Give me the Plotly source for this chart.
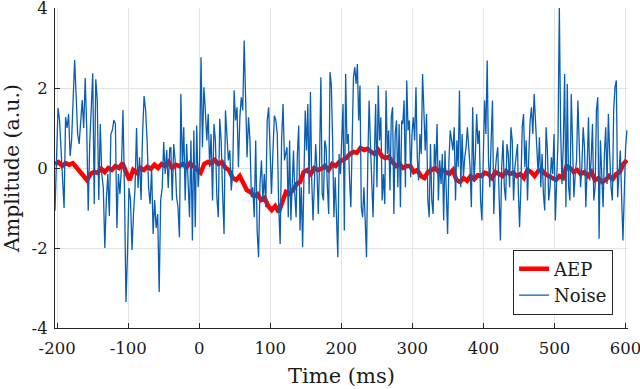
import numpy as np
import plotly.graph_objects as go

# ---------------- data ----------------
x_tick_vals = [-200, -100, 0, 100, 200, 300, 400, 500, 600]
x_tick_text = ["-200", "-100", "0", "100", "200", "300", "400", "500", "600"]
y_tick_vals = [-4, -2, 0, 2, 4]
y_tick_text = ["-4", "-2", "0", "2", "4"]

# Noise recording, read in five consecutive time windows (ms)
noise_window_ms = [(-203, -41.5), (-40, 122), (123.5, 285), (286.5, 448), (449, 602)]

noise_w1 = [-1.07, 0.4, 1.5, 1.2, 0.45, -0.5, -1.0, 1.27, 1.0, 1.35, 0.3, 0.7, 1.6, 2.7, 1.8,
            0.85, 0.6, 1.2, 1.7, 1.0, 2.25, 1.0, -1.07, 0.6, 1.5, 2.37, -0.9, 2.22, 1.7, -0.8,
            1.1, -0.15, -0.5, -2.0, -0.8, -0.15, -1.2, 0.85, 0.95, 1.2, 1.1, -1.5, -0.15, -0.65,
            0.0, 1.45, -0.5, -3.35, -2.15, -0.5, -0.8, -2.05, -1.15, -0.5, 1.0, -0.5, 0.27, -0.8,
            0.85, 1.8, 1.45, 0.7, -0.5, -0.9, 0.0, -1.65, -0.8, -1.5, -1.15, -3.1, -0.8, -0.5,
            0.65, -0.15, 0.45, -0.5, 0.5]
noise_w2 = [0.52, -0.81, 0.6, 0.19, -0.73, -0.98, -1.73, 1.85, 0.02, 1.02, -0.81, 0.6, -0.48,
            -1.23, 0.69, -1.81, 0.94, -1.48, 1.06, -0.48, 0.19, 2.77, 0.52, 2.02, 1.44, 0.69, 1.35,
            0.02, 0.85, -0.81, 1.1, 0.69, -0.73, -1.23, 1.23, 0.69, -0.65, -1.65, 1.44, 0.69, 0.19,
            0.44, -0.56, -0.15, 1.94, 1.19, 1.52, 0.02, 1.27, 1.77, 1.44, 3.19, 1.77, 0.27, 1.27,
            0.69, -0.73, -0.48, -1.23, 0.69, -1.56, -2.23, -0.4, 0.19, -0.81, -0.15, -0.98, 1.19,
            1.52, 0.27, -0.65, 0.44, 1.31, 1.19, 0.85, -0.98, -1.9, 0.69, 1.6, 0.19, 0.44]
noise_w3 = [0.52, -1.23, 0.69, -1.31, -0.48, 0.44, -0.65, -1.23, 0.35, 1.06, -1.56, -0.48, -1.98,
            0.35, 1.44, 0.44, 1.6, -0.65, 1.9, -0.31, -1.31, -0.4, 0.6, -0.06, -1.15, 0.19, 2.27,
            -0.65, -0.81, 0.69, 0.52, -0.48, -1.15, 2.4, 2.1, 0.69, -1.23, -0.23, -1.4, -2.23, 0.35,
            -0.15, 0.69, 1.6, -1.56, 2.35, 0.6, 0.85, -0.31, -0.98, 0.69, 2.27, 2.52, 2.1, 2.6,
            1.19, 2.06, -0.98, -1.23, -0.48, -1.31, -2.23, 0.19, 1.69, 0.6, -0.65, -1.23, 0.27,
            1.6, -0.48, 2.06, 0.69, 1.27, -0.81, -0.15, -0.9, 1.94, 0.35, 0.94, -0.56, 1.27, 1.52,
            -1.15, 0.85, 1.19, -0.48, 1.1, -0.98, 1.19]
noise_w4 = [1.1, 1.69, -0.48, 2.19, 0.94, 1.19, -0.23, 0.85, 1.27, 0.69, 2.02, 0.27, -0.31, 0.85,
            0.35, 2.35, 1.44, 0.44, 1.35, -0.81, -1.23, 0.6, -0.81, -1.15, 0.6, 0.02, 1.1, -0.81,
            0.19, -0.4, 0.35, -1.31, 0.44, -0.48, -1.65, 0.19, 0.94, 0.69, 0.44, 1.02, -0.81, 0.69,
            0.02, 1.94, -0.48, 0.85, -0.23, 0.27, 0.52, 1.02, 0.6, 0.02, -0.98, 1.52, -0.31, 0.27,
            1.35, 0.6, 0.94, -0.81, -1.31, 0.27, 1.69, 0.85, 2.69, 0.19, -0.48, 0.69, 1.69, -1.15,
            -0.15, 0.27, 0.52, -0.65, -1.81, 0.02, 0.69, -0.48, -0.81, 0.6, 0.35, -0.48, 1.02,
            0.69, -0.81, 0.02, 0.35, 0.6]
noise_w5 = [-0.48, -1.48, -0.48, 1.02, 1.35, 0.02, 0.69, -0.81, 0.35, 1.19, 1.52, 0.85, 1.85,
            1.27, 0.44, -0.15, 0.77, -0.48, 0.35, -0.65, -1.06, 1.02, 0.44, -0.81, -0.48, 0.27,
            -0.15, 0.85, -1.31, -0.15, 0.69, 4.02, 0.94, -0.4, 0.6, 2.35, -0.98, 2.1, -0.48, -0.81,
            1.85, 0.6, -0.73, -0.15, 0.19, 1.69, 0.52, -0.48, 0.02, 1.02, 0.52, -0.98, 0.02, 1.27,
            -0.31, 0.19, 1.1, -0.81, -0.48, 1.44, 1.77, -1.77, 0.69, -0.15, -0.98, 0.35, 1.02,
            -0.4, 1.35, 0.35, -0.48, -0.81, 1.44, 2.02, 2.19, -0.73, 0.02, 0.44, -0.73, -1.81,
            -0.65, 0.52, 0.94]
noise_windows = [noise_w1, noise_w2, noise_w3, noise_w4, noise_w5]

# AEP (averaged evoked potential), one value every 5 ms from -203 ms
aep_start_ms, aep_step_ms = -203, 5
aep = [0.1, 0.15, 0.05, 0.12, 0.08, 0.12, 0.02, -0.08, -0.2, -0.3,
       -0.15, -0.1, -0.12, -0.02, -0.1, 0.0, -0.05, 0.05, 0.0, 0.12,
       -0.1, -0.3, -0.05, -0.12, 0.0, -0.05, 0.03, -0.02, 0.08, 0.0,
       0.1, 0.05, 0.15, 0.0, 0.08, 0.05, 0.1, 0.02, 0.12, 0.05,
       -0.05, -0.12, 0.1, 0.15, 0.12, 0.2, 0.1, 0.15, 0.0, -0.05,
       -0.25, -0.3, -0.2, -0.35, -0.55, -0.6, -0.7, -0.65, -0.8, -0.75,
       -0.95, -1.05, -0.95, -1.1, -0.85, -0.6, -0.65, -0.55, -0.4, -0.35,
       -0.1, -0.05, -0.15, 0.0, -0.05, -0.02, 0.05, -0.05, 0.1, 0.05,
       0.15, 0.2, 0.25, 0.35, 0.4, 0.38, 0.5, 0.45, 0.48, 0.4,
       0.35, 0.45, 0.3, 0.25, 0.28, 0.15, 0.05, 0.1, 0.0, 0.05,
       0.05, -0.1, -0.05, -0.2, -0.25, -0.1, -0.05, 0.0, -0.1, -0.05,
       -0.1, -0.15, -0.05, -0.3, -0.35, -0.25, -0.32, -0.2, -0.28, -0.18,
       -0.2, -0.12, -0.15, -0.25, -0.1, -0.15, -0.2, -0.08, -0.15, -0.12,
       -0.2, -0.15, -0.25, -0.05, -0.1, -0.2, -0.08, -0.05, -0.15, -0.2,
       -0.25, -0.3, -0.2, -0.25, 0.05, 0.0, -0.1, -0.05, -0.15, -0.1,
       -0.2, -0.1, -0.3, -0.25, -0.35, -0.3, -0.2, -0.28, -0.15, -0.1,
       0.1, 0.2]

# ---------------- build sample times ----------------
noise_t = np.concatenate([np.linspace(a, b, len(w)) for (a, b), w in zip(noise_window_ms, noise_windows)])
noise_y = np.concatenate([np.array(w) for w in noise_windows])
aep_t = aep_start_ms + aep_step_ms * np.arange(len(aep))

FONT = "DejaVu Serif"
AX = "#262626"
TXT = "#1a1a1a"

fig = go.Figure()
fig.add_trace(go.Scatter(x=aep_t, y=aep, mode="lines", name="AEP",
                         line=dict(color="#FF0000", width=4.5)))
fig.add_trace(go.Scatter(x=noise_t, y=noise_y, mode="lines", name="Noise",
                         line=dict(color="#0A5EB0", width=1.3)))

axis_common = dict(showline=True, linecolor=AX, linewidth=1, mirror=False,
                   ticks="inside", ticklen=5, tickcolor=AX, tickwidth=1,
                   showgrid=True, gridcolor="#E3E3E3", gridwidth=1, zeroline=False,
                   automargin=False, ticklabeloverflow="allow",
                   tickfont=dict(family=FONT, size=16.5, color=TXT))

fig.update_xaxes(range=[-203, 603.5], tickvals=x_tick_vals, ticktext=x_tick_text,
                 ticklabelstandoff=5,
                 title=dict(text="Time (ms)", font=dict(family=FONT, size=21, color=TXT), standoff=11),
                 **axis_common)
fig.update_yaxes(range=[-4, 4], tickvals=y_tick_vals, ticktext=y_tick_text,
                 ticklabelstandoff=3,
                 title=dict(text="Amplitude (a.u.)", font=dict(family=FONT, size=20.5, color=TXT), standoff=6),
                 **axis_common)

fig.update_layout(
    width=640, height=389,
    margin=dict(l=55, r=12, t=8, b=61),
    plot_bgcolor="white", paper_bgcolor="white",
    font=dict(family=FONT, color=TXT),
    showlegend=True,
    legend=dict(x=0.974, y=0.042, xanchor="right", yanchor="bottom",
                bgcolor="white", bordercolor=AX, borderwidth=1,
                font=dict(family=FONT, size=18, color=TXT),
                tracegroupgap=0, itemwidth=30),
)

fig.write_html("out.html", config={"displayModeBar": False},
               post_script="document.body.style.margin='0';document.body.style.padding='0';")
